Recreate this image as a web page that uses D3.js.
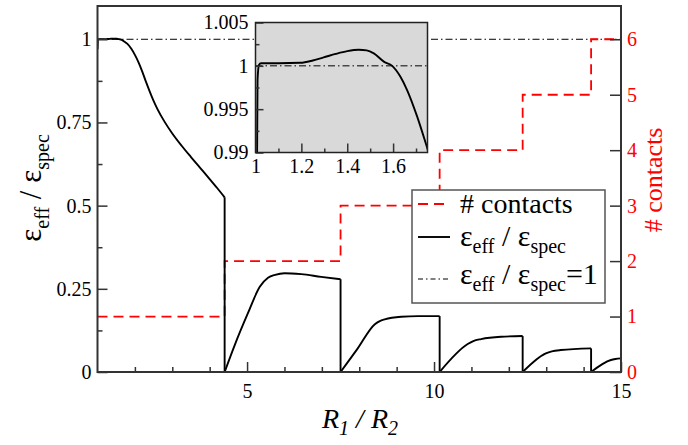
<!DOCTYPE html>
<html><head><meta charset="utf-8">
<script src="https://cdn.jsdelivr.net/npm/d3@7"></script>
<style>body{margin:0;background:#fff;} svg{display:block;}</style>
</head><body><svg id="c" width="688" height="445" font-family="Liberation Serif"></svg>
<script>
// ---- data ----
const xTicks = [5, 10, 15];
const xMinor = [2, 3, 4, 6, 7, 8, 9, 11, 12, 13, 14];
const yTicks = [0, 0.25, 0.5, 0.75, 1];
const yMinor = [0.125, 0.375, 0.625, 0.875];
const contactTicks = [0, 1, 2, 3, 4, 5, 6];
const insetXTicks = [1, 1.2, 1.4, 1.6];
const insetXMinor = [1.1, 1.3, 1.5, 1.7];
const insetYTicks = [0.99, 0.995, 1, 1.005];
const insetYMinor = [0.9925, 0.9975, 1.0025];
const contactBreaks = [1, 4.4, 7.5, 10.15, 12.37, 14.2, 15];
const contacts = [1, 2, 3, 4, 5, 6];
const seg1 = [[1.0,0.97],[1.005,0.985],[1.007,0.99],[1.009,0.9984],[1.015,1.0001],[1.024,1.0003],[1.1,1.0003],[1.196,1.00035],[1.25,1.00062],[1.297,1.00097],[1.35,1.00138],[1.4,1.00170],[1.45,1.00186],[1.485,1.00178],[1.516,1.00143],[1.561,1.00046],[1.596,1.0],[1.632,0.99874],[1.661,0.99721],[1.705,0.99414],[1.749,0.9905],[1.8,0.986],[1.9,0.972],[2.0,0.953],[2.1,0.93],[2.2,0.902],[2.3,0.871],[2.4,0.842],[2.5,0.815],[2.6,0.791],[2.8,0.751],[3.0,0.717],[3.25,0.68],[3.5,0.646],[3.75,0.613],[4.0,0.58],[4.2,0.553],[4.4,0.525]];
const seg2 = [[4.4,0],[4.67,0.081],[5.02,0.176],[5.34,0.256],[5.56,0.283],[5.75,0.292],[6.0,0.297],[6.45,0.294],[6.98,0.286],[7.5,0.279]];
const seg3 = [[7.5,0],[7.96,0.071],[8.41,0.143],[8.55,0.153],[8.68,0.158],[9.12,0.166],[9.57,0.168],[10.15,0.168]];
const seg4 = [[10.15,0],[10.9,0.084],[11.05,0.093],[11.26,0.099],[11.79,0.106],[12.37,0.108]];
const seg5 = [[12.37,0],[12.99,0.056],[13.15,0.062],[13.39,0.066],[14.2,0.071]];
const seg6 = [[14.2,0],[14.73,0.036],[14.85,0.039],[15.0,0.041]];
const segments = [seg1, seg2, seg3, seg4, seg5, seg6];
const refLevel = 1;

// ---- layout ----
const FONT = "Liberation Serif";
const RED = "#ff0000";
const svg = d3.select("#c");
const L = 97.5, R = 621, T = 6, B = 372;
const x = d3.scaleLinear().domain([1, 15]).range([L, R]);
const yL = d3.scaleLinear().domain([0, 1.1]).range([B, T]);
const yR = d3.scaleLinear().domain([0, 6.6]).range([B, T]);
const iL = 255.5, iR = 427.5, iT = 22.5, iB = 152.5;
const xi = d3.scaleLinear().domain([1, 1.75]).range([iL, iR]);
const yi = d3.scaleLinear().domain([0.99, 1.005]).range([iB, iT]);

const defs = svg.append("defs");
defs.append("clipPath").attr("id","mainclip").append("rect").attr("x",L).attr("y",T).attr("width",R-L).attr("height",B-T);
defs.append("clipPath").attr("id","insclip").append("rect").attr("x",iL).attr("y",iT).attr("width",iR-iL).attr("height",iB-iT);

const axisColor = "#333";
function styleAxis(g, color, size) {
  g.select(".domain").remove();
  g.attr("font-family", FONT);
  g.selectAll(".tick line").attr("stroke", axisColor).attr("stroke-width", 1.5);
  g.selectAll("text").attr("fill", color).attr("font-size", size).attr("font-family", FONT);
}

// main plot content
const plot = svg.append("g").attr("clip-path", "url(#mainclip)");
plot.append("line").attr("x1", x(1)).attr("x2", x(15)).attr("y1", yL(refLevel)).attr("y2", yL(refLevel))
  .attr("stroke", "#000").attr("stroke-width", 1).attr("stroke-dasharray", "7,3,1.5,3");
const stepPts = contactBreaks.map((b, i) => [b, contacts[Math.min(i, contacts.length - 1)]]);
plot.append("path").datum(stepPts)
  .attr("d", d3.line().x(d => x(d[0])).y(d => yR(d[1])).curve(d3.curveStepAfter))
  .attr("fill", "none").attr("stroke", RED).attr("stroke-width", 1.8).attr("stroke-dasharray", "10,6");
const effLine = d3.line().x(d => x(d[0])).y(d => yL(d[1])).curve(d3.curveMonotoneX);
segments.forEach((s, i) => {
  plot.append("path").datum(s).attr("d", effLine).attr("fill", "none").attr("stroke", "#000").attr("stroke-width", 1.9);
  if (i < segments.length - 1) {
    const last = s[s.length - 1];
    plot.append("line").attr("x1", x(last[0])).attr("x2", x(last[0])).attr("y1", yL(last[1])).attr("y2", yL(0))
      .attr("stroke", "#000").attr("stroke-width", 1.9);
  }
});

// axes
svg.append("g").attr("transform", `translate(0,${B})`)
  .call(d3.axisBottom(x).tickValues(xTicks).tickSize(-10).tickPadding(12).tickFormat(d => String(d)))
  .call(g => styleAxis(g, "#000", 20));
svg.append("g").attr("transform", `translate(0,${B})`)
  .call(d3.axisBottom(x).tickValues(xMinor).tickSize(-5).tickFormat(""))
  .call(g => styleAxis(g, "#000", 20));
svg.append("g").attr("transform", `translate(${L},0)`)
  .call(d3.axisLeft(yL).tickValues(yTicks).tickSize(-10).tickPadding(6).tickFormat(d => String(d)))
  .call(g => styleAxis(g, "#000", 20));
svg.append("g").attr("transform", `translate(${L},0)`)
  .call(d3.axisLeft(yL).tickValues(yMinor).tickSize(-5).tickFormat(""))
  .call(g => styleAxis(g, "#000", 20));
svg.append("g").attr("transform", `translate(${R},0)`)
  .call(d3.axisRight(yR).tickValues(contactTicks).tickSize(-11).tickPadding(6).tickFormat(d => String(d)))
  .call(g => styleAxis(g, RED, 20));
svg.append("rect").attr("x", L).attr("y", T).attr("width", R - L).attr("height", B - T)
  .attr("fill", "none").attr("stroke", axisColor).attr("stroke-width", 2);

// ---- inset ----
svg.append("rect").attr("x", iL).attr("y", iT).attr("width", iR - iL).attr("height", iB - iT).attr("fill", "#d9d9d9");
const ins = svg.append("g").attr("clip-path", "url(#insclip)");
ins.append("line").attr("x1", iL).attr("x2", iR).attr("y1", yi(refLevel)).attr("y2", yi(refLevel))
  .attr("stroke", "#000").attr("stroke-width", 1).attr("stroke-dasharray", "7,3,1.5,3");
ins.append("path").datum(seg1)
  .attr("d", d3.line().x(d => xi(d[0])).y(d => yi(d[1])).curve(d3.curveMonotoneX))
  .attr("fill", "none").attr("stroke", "#000").attr("stroke-width", 1.9);
svg.append("g").attr("transform", `translate(0,${iB})`)
  .call(d3.axisBottom(xi).tickValues(insetXTicks).tickSize(-9).tickPadding(6).tickFormat(d => String(d)))
  .call(g => styleAxis(g, "#000", 20));
svg.append("g").attr("transform", `translate(0,${iB})`)
  .call(d3.axisBottom(xi).tickValues(insetXMinor).tickSize(-4).tickFormat(""))
  .call(g => styleAxis(g, "#000", 20));
svg.append("g").attr("transform", `translate(${iL},0)`)
  .call(d3.axisLeft(yi).tickValues(insetYTicks).tickSize(-8).tickPadding(7).tickFormat(d => String(d)))
  .call(g => styleAxis(g, "#000", 20));
svg.append("g").attr("transform", `translate(${iL},0)`)
  .call(d3.axisLeft(yi).tickValues(insetYMinor).tickSize(-4).tickFormat(""))
  .call(g => styleAxis(g, "#000", 20));
svg.append("rect").attr("x", iL).attr("y", iT).attr("width", iR - iL).attr("height", iB - iT)
  .attr("fill", "none").attr("stroke", "#222").attr("stroke-width", 1.5);

// ---- rich text helper ----
function rich(g, parts, big, small, sh) {
  const t = g.append("text").attr("font-family", FONT);
  let cur = 0;
  parts.forEach(p => {
    const target = p.sub ? sh : 0;
    t.append("tspan").attr("font-family", FONT).attr("font-size", p.sub ? small : big).attr("dy", target - cur)
      .attr("font-style", p.italic ? "italic" : null).text(p.t);
    cur = target;
  });
  return t;
}
const epsParts = [{t:"ε"},{t:"eff",sub:true},{t:" / "},{t:"ε"},{t:"spec",sub:true}];

const lt = svg.append("g").attr("transform", "translate(41,188) rotate(-90)");
rich(lt, epsParts, 31, 20, 8).attr("text-anchor", "middle").attr("fill", "#000");
const bt = svg.append("g").attr("transform", "translate(360,428)");
rich(bt, [{t:"R",italic:true},{t:"1",sub:true,italic:true},{t:" / ",italic:true},{t:"R",italic:true},{t:"2",sub:true,italic:true}], 28, 20, 7)
  .attr("text-anchor", "middle").attr("fill", "#000");
svg.append("text").attr("transform", "translate(662,180) rotate(-90)").attr("text-anchor", "middle")
  .attr("font-family", FONT).attr("font-size", 26).attr("fill", RED).text("# contacts");

// ---- legend ----
const lg = svg.append("g");
lg.append("rect").attr("x", 412).attr("y", 190).attr("width", 193).attr("height", 113)
  .attr("fill", "#fff").attr("stroke", "#555").attr("stroke-width", 1.5);
lg.append("line").attr("x1", 418).attr("x2", 450).attr("y1", 204).attr("y2", 204)
  .attr("stroke", RED).attr("stroke-width", 1.8).attr("stroke-dasharray", "10,6");
lg.append("line").attr("x1", 418).attr("x2", 450).attr("y1", 237).attr("y2", 237)
  .attr("stroke", "#000").attr("stroke-width", 1.9);
lg.append("line").attr("x1", 418).attr("x2", 450).attr("y1", 279).attr("y2", 279)
  .attr("stroke", "#000").attr("stroke-width", 1).attr("stroke-dasharray", "5,3,1.5,3");
lg.append("text").attr("x", 460).attr("y", 213).attr("font-family", FONT).attr("font-size", 28).attr("fill", "#000").text("# contacts");
const l2 = lg.append("g").attr("transform", "translate(460,246)");
rich(l2, epsParts, 30, 20, 7).attr("fill", "#000");
const l3 = lg.append("g").attr("transform", "translate(460,284)");
rich(l3, [...epsParts, {t:"=1"}], 30, 20, 7).attr("fill", "#000");
</script></body></html>
